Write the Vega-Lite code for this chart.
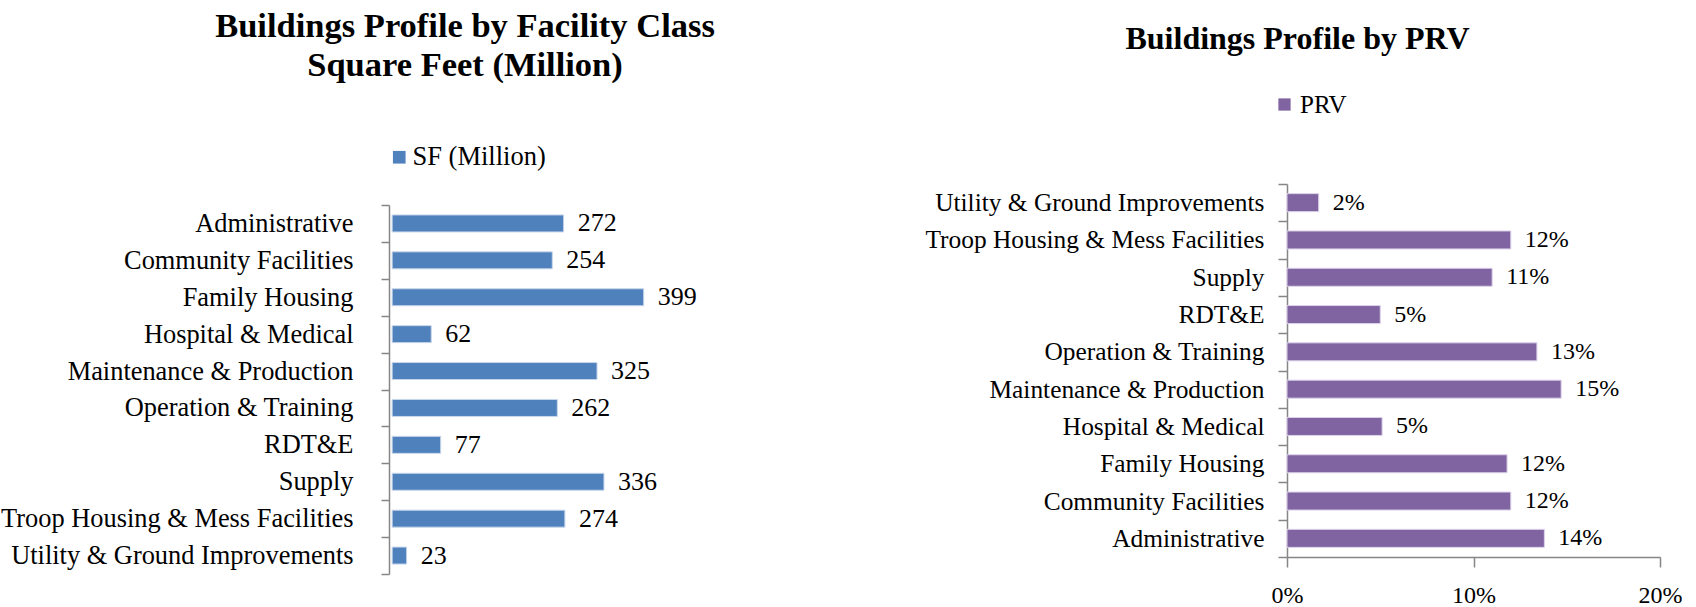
{
  "$schema": "https://vega.github.io/schema/vega-lite/v6.json",
  "padding": {"left": 0, "top": 8, "right": 0, "bottom": 0},
  "background": "white",
  "config": {"font": "Liberation Serif", "view": {"stroke": null},
    "axis": {"labelFont": "Liberation Serif"}, "legend": {"labelFont": "Liberation Serif"}, "text": {"font": "Liberation Serif"}},
  "datasets": {
    "sf": [
      {"category": "Administrative", "sf": 272},
      {"category": "Community Facilities", "sf": 254},
      {"category": "Family Housing", "sf": 399},
      {"category": "Hospital & Medical", "sf": 62},
      {"category": "Maintenance & Production", "sf": 325},
      {"category": "Operation & Training", "sf": 262},
      {"category": "RDT&E", "sf": 77},
      {"category": "Supply", "sf": 336},
      {"category": "Troop Housing & Mess Facilities", "sf": 274},
      {"category": "Utility & Ground Improvements", "sf": 23}
    ],
    "prv": [
      {"category": "Utility & Ground Improvements", "prv": 0.017},
      {"category": "Troop Housing & Mess Facilities", "prv": 0.12},
      {"category": "Supply", "prv": 0.11},
      {"category": "RDT&E", "prv": 0.05},
      {"category": "Operation & Training", "prv": 0.134},
      {"category": "Maintenance & Production", "prv": 0.147},
      {"category": "Hospital & Medical", "prv": 0.051},
      {"category": "Family Housing", "prv": 0.118},
      {"category": "Community Facilities", "prv": 0.12},
      {"category": "Administrative", "prv": 0.138}
    ]
  },
  "spacing": 204,
  "hconcat": [
    {
      "data": {"name": "sf"},
      "width": 290,
      "height": 390,
      "title": {"text": ["Buildings Profile by Facility Class", "Square Feet (Million)"], "fontSize": 34.5, "fontWeight": "bold", "font": "Liberation Serif", "color": "black", "anchor": "middle", "frame": "group", "dx": -69, "offset": 61, "lineHeight": 39},
      "encoding": {
        "y": {"field": "category", "type": "nominal", "sort": null, "scale": {"paddingInner": 0, "paddingOuter": 0, "range": [21, 390]},
          "axis": {"title": null, "domainColor": "#868686", "tickColor": "#868686", "tickSize": 8, "tickBand": "extent", "labelFontSize": 26.4, "labelFont": "Liberation Serif", "labelColor": "black", "labelPadding": 28, "labelLimit": 500, "minExtent": 386, "maxExtent": 386, "domainWidth": 1.5, "tickWidth": 1.5}},
        "x": {"field": "sf", "type": "quantitative", "scale": {"domain": [-5, 455]}, "axis": null}
      },
      "layer": [
        {"mark": {"type": "bar", "size": 17, "color": "#4f81bd", "stroke": "#c9d7eb", "strokeWidth": 1},
          "encoding": {"color": {"datum": "SF (Million)", "type": "nominal", "scale": {"range": ["#4f81bd"]},
            "legend": {"title": null, "orient": "none", "legendX": -3, "legendY": -40, "symbolType": "square", "symbolSize": 160, "symbolStrokeWidth": 0, "labelFontSize": 26.5, "labelFont": "Liberation Serif", "labelColor": "black", "labelOffset": 0}}}},
        {"mark": {"type": "text", "align": "left", "baseline": "middle", "dx": 14, "fontSize": 26, "font": "Liberation Serif", "color": "black"},
          "encoding": {"text": {"field": "sf", "type": "quantitative", "format": "d"}}}
      ]
    },
    {
      "data": {"name": "prv"},
      "width": 373,
      "height": 373,
      "title": {"text": "Buildings Profile by PRV", "fontSize": 32, "fontWeight": "bold", "font": "Liberation Serif", "color": "black", "anchor": "middle", "frame": "group", "dx": -176, "offset": 36},
      "encoding": {
        "y": {"field": "category", "type": "nominal", "sort": null, "scale": {"paddingInner": 0, "paddingOuter": 0},
          "axis": {"title": null, "domainColor": "#868686", "tickColor": "#868686", "tickSize": 9, "tickBand": "extent", "labelFontSize": 25.4, "labelFont": "Liberation Serif", "labelColor": "black", "labelPadding": 14, "labelLimit": 500, "minExtent": 368, "maxExtent": 368, "domainWidth": 1.5, "tickWidth": 1.5}},
        "x": {"field": "prv", "type": "quantitative", "scale": {"domain": [0, 0.2]},
          "axis": {"title": null, "format": ".0%", "values": [0, 0.1, 0.2], "grid": false, "domainColor": "#868686", "tickColor": "#868686", "tickSize": 10, "tickWidth": 1.5, "labelFontSize": 24, "labelFont": "Liberation Serif", "labelPadding": 16, "labelColor": "black", "labelFlush": false, "domainWidth": 1.5}}
      },
      "layer": [
        {"mark": {"type": "bar", "size": 18, "color": "#8064a2", "stroke": "#ddd2ea", "strokeWidth": 1},
          "encoding": {"color": {"datum": "PRV", "type": "nominal", "scale": {"range": ["#8064a2"]},
            "legend": {"title": null, "orient": "none", "legendX": -15, "legendY": -92, "symbolType": "square", "symbolSize": 150, "symbolStrokeWidth": 0, "labelFontSize": 25, "labelFont": "Liberation Serif", "labelColor": "black", "labelOffset": 3}}}},
        {"mark": {"type": "text", "align": "left", "baseline": "middle", "dx": 14, "fontSize": 24, "font": "Liberation Serif", "color": "black"},
          "encoding": {"text": {"field": "prv", "type": "quantitative", "format": ".0%"}}}
      ]
    }
  ],
  "resolve": {"scale": {"color": "independent"}, "legend": {"color": "independent"}}
}
